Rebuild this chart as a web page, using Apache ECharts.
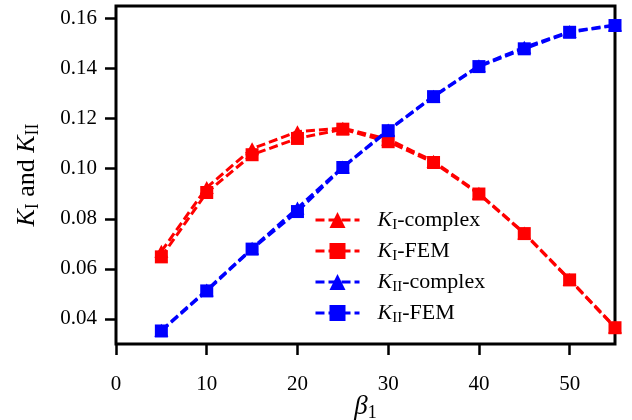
<!DOCTYPE html>
<html>
<head>
<meta charset="utf-8">
<script src="https://cdn.jsdelivr.net/npm/echarts@6/dist/echarts.min.js"></script>
<style>html,body{margin:0;padding:0;background:#fff}#c{width:632px;height:420px}</style>
</head>
<body>
<div id="c"></div>
<script>
var beta = [5, 10, 15, 20, 25, 30, 35, 40, 45, 50, 55];
var kIComplex = [0.067, 0.0925, 0.108, 0.1148, 0.1162, 0.1118, 0.103, 0.0902, 0.0743, 0.0558, 0.0368];
var kIFem = [0.0648, 0.0905, 0.1056, 0.1121, 0.1158, 0.1108, 0.1025, 0.0899, 0.0741, 0.0556, 0.0365];
var kIIComplex = [0.0355, 0.0516, 0.0682, 0.0843, 0.1007, 0.1155, 0.129, 0.1411, 0.1485, 0.1548, 0.1574];
var kIIFem = [0.0352, 0.0512, 0.0679, 0.0829, 0.1005, 0.1152, 0.1288, 0.1408, 0.1479, 0.1545, 0.1572];
var xTicks = [0, 10, 20, 30, 40, 50];
var yTicks = [0.04, 0.06, 0.08, 0.10, 0.12, 0.14, 0.16];
var seriesNames = ['KI-complex', 'KI-FEM', 'KII-complex', 'KII-FEM'];

var SERIF = 'Liberation Serif';
function pairs(ys) { return beta.map(function (x, i) { return [x, ys[i]]; }); }
function richLabel(size, subSize, lh) {
  return {
    k: { fontFamily: SERIF, fontStyle: 'italic', fontSize: size, lineHeight: lh, verticalAlign: 'middle', color: '#000' },
    t: { fontFamily: SERIF, fontSize: size, lineHeight: lh, verticalAlign: 'middle', color: '#000' },
    s: { fontFamily: SERIF, fontSize: subSize, lineHeight: subSize + 1, verticalAlign: 'bottom', color: '#000' }
  };
}
function legendText(name) {
  var m = name.match(/^K(I+)-(.*)$/);
  return '{k|K}{s|' + m[1] + '}{t|-' + m[2] + '}';
}
function mk(name, data, color, symbol, z) {
  return {
    name: name, type: 'line', data: pairs(data), z: z,
    symbol: symbol, symbolSize: symbol === 'triangle' ? [14, 13] : 13,
    showAllSymbol: true,
    lineStyle: { color: color, width: 3, type: [9, 4] },
    itemStyle: { color: color },
    emphasis: { disabled: true },
    clip: true
  };
}
var chart = echarts.init(document.getElementById('c'), null, { renderer: 'canvas' });
chart.setOption({
  animation: false,
  backgroundColor: '#fff',
  grid: { left: 116, right: 17, top: 6, bottom: 76, show: true, borderColor: '#000', borderWidth: 3, backgroundColor: 'transparent', containLabel: false, outerBoundsMode: 'none' },
  legend: {
    orient: 'vertical', left: 314, top: 209, padding: 0,
    itemWidth: 44, itemHeight: 20, itemGap: 7,
    data: seriesNames,
    formatter: legendText,
    lineStyle: { width: 3 },
    textStyle: { padding: [0, 0, 0, 13], rich: richLabel(22, 15, 26) },
    selectedMode: false
  },
  xAxis: {
    type: 'value', min: 0, max: 55,
    name: '{b|β}{s|1}', nameLocation: 'middle', nameGap: 48, nameMoveOverlap: false,
    nameTextStyle: { rich: {
      b: { fontFamily: SERIF, fontStyle: 'italic', fontSize: 27, lineHeight: 30, verticalAlign: 'middle', color: '#000' },
      s: { fontFamily: SERIF, fontSize: 18, lineHeight: 19, verticalAlign: 'bottom', color: '#000' }
    } },
    axisLine: { show: false },
    splitLine: { show: false },
    axisTick: { show: true, length: 11, lineStyle: { color: '#000', width: 2.5 }, customValues: xTicks },
    axisLabel: { color: '#000', fontFamily: SERIF, fontSize: 21, margin: 30, customValues: xTicks, formatter: function (v) { return String(v); } }
  },
  yAxis: {
    type: 'value', min: 0.03, max: 0.165,
    name: '{k|K}{s|I}{t| and }{k|K}{s|II}', nameLocation: 'middle', nameGap: 74, nameRotate: 90,
    nameTextStyle: { rich: richLabel(26, 18, 30) },
    axisLine: { show: false },
    splitLine: { show: false },
    axisTick: { show: true, length: 11, lineStyle: { color: '#000', width: 2.5 }, customValues: yTicks },
    axisLabel: { color: '#000', fontFamily: SERIF, fontSize: 21, margin: 19, customValues: yTicks, formatter: function (v) { return v.toFixed(2); } }
  },
  series: [
    mk('KI-complex', kIComplex, '#ff0000', 'triangle', 2),
    mk('KI-FEM', kIFem, '#ff0000', 'rect', 3),
    mk('KII-complex', kIIComplex, '#0000ff', 'triangle', 4),
    mk('KII-FEM', kIIFem, '#0000ff', 'rect', 5)
  ]
});
</script>
</body>
</html>
